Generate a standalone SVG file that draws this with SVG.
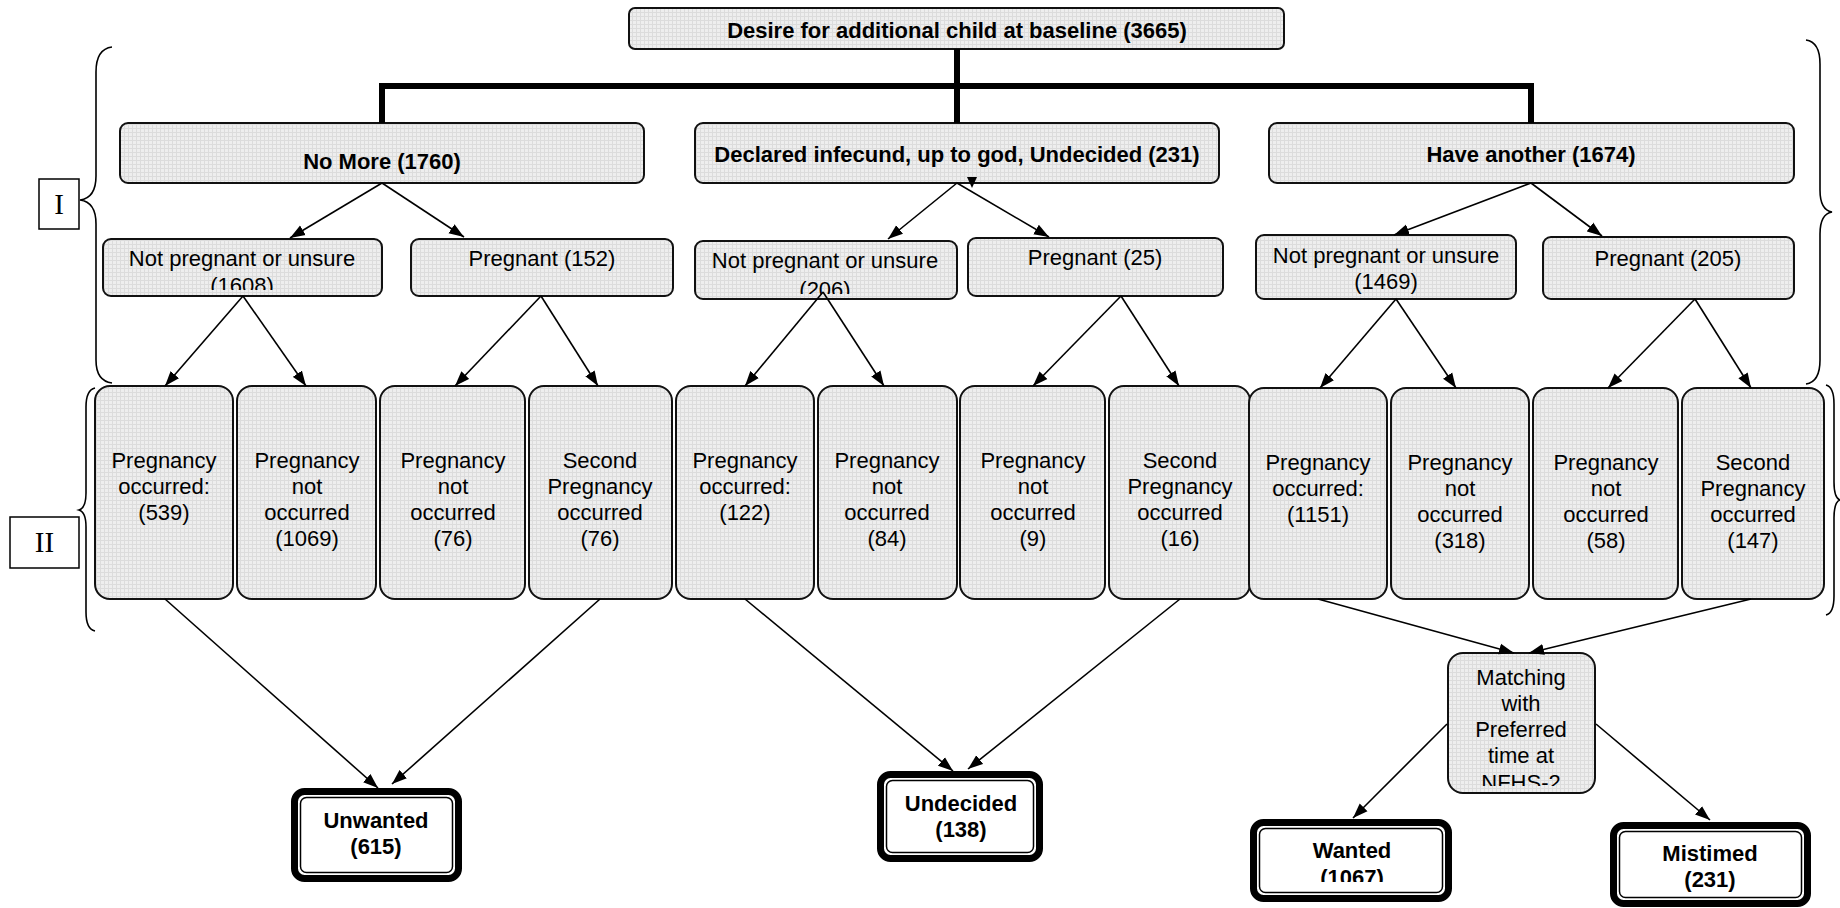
<svg xmlns="http://www.w3.org/2000/svg" width="1840" height="908" viewBox="0 0 1840 908">
<defs>
<pattern id="grid" width="4" height="4" patternUnits="userSpaceOnUse">
<rect width="4" height="4" fill="#eeeeee"/>
<path d="M0 0.5H4M0.5 0V4" stroke="#dcdcdc" stroke-width="1"/>
</pattern>
<marker id="ah" markerUnits="userSpaceOnUse" markerWidth="16" markerHeight="12" refX="15" refY="6" orient="auto">
<path d="M0,0.5 L15,6 L0,11.5 z" fill="#000"/>
</marker>
<clipPath id="c1608"><rect x="103" y="239" width="279" height="51"/></clipPath>
<clipPath id="c206"><rect x="695" y="241" width="262" height="53"/></clipPath>
<clipPath id="cmatch"><rect x="1448" y="653" width="147" height="133"/></clipPath>
<clipPath id="cwanted"><rect x="1250" y="819" width="202" height="63"/></clipPath>
</defs>
<style>
.box{fill:url(#grid);stroke:#111;stroke-width:2}
.t{font-family:"Liberation Sans",Arial,sans-serif;font-size:22px;fill:#000;text-anchor:middle}
.b{font-weight:bold}
.arr{stroke:#000;stroke-width:1.6;fill:none;marker-end:url(#ah)}
.thick{stroke:#000;stroke-width:6;fill:none}
.outer{fill:#fff;stroke:#000;stroke-width:7}
.inner{fill:none;stroke:#000;stroke-width:1.5}
.brace{fill:none;stroke:#000;stroke-width:1.6}
.lab{font-family:"Liberation Serif","Times New Roman",serif;font-size:29px;text-anchor:middle}
</style>

<g id="braces">
<path class="brace" d="M112,47 Q96,49 96,72 L96,176 Q96,198 80,200 Q96,202 96,224 L96,360 Q96,381 112,383"/>
<path class="brace" d="M95,388 Q86,390 86,407 L86,493 Q86,508 79,510 Q86,512 86,527 L86,612 Q86,629 95,631"/>
<path class="brace" d="M1806,40 Q1820,42 1820,64 L1820,190 Q1820,210 1832,212 Q1820,214 1820,234 L1820,360 Q1820,382 1806,384"/>
<path class="brace" d="M1826,385 Q1834,387 1834,404 L1834,482 Q1834,498 1840,500 Q1834,502 1834,518 L1834,596 Q1834,613 1826,615"/>
</g>
<g id="label-I">
<rect x="39" y="179" width="40" height="50" fill="#fff" stroke="#000" stroke-width="1.5"/>
<text class="lab" x="59" y="214">I</text>
</g>
<g id="label-II">
<rect x="10" y="517" width="69" height="51" fill="#fff" stroke="#000" stroke-width="1.5"/>
<text class="lab" x="44.5" y="552">II</text>
</g>

<g id="n-top">
<rect class="box" x="629" y="8" width="655" height="41" rx="6"/>
<text class="t b" x="957" y="38">Desire for additional child at baseline (3665)</text>
</g>
<g id="n-nomore">
<rect class="box" x="120" y="123" width="524" height="60" rx="8"/>
<text class="t b" x="382" y="169">No More (1760)</text>
</g>
<g id="n-declared">
<rect class="box" x="695" y="123" width="524" height="60" rx="8"/>
<text class="t b" x="957" y="162">Declared infecund, up to god, Undecided (231)</text>
</g>
<g id="n-have">
<rect class="box" x="1269" y="123" width="525" height="60" rx="8"/>
<text class="t b" x="1531" y="162">Have another (1674)</text>
</g>

<g id="n-np1608">
<rect class="box" x="103" y="239" width="279" height="57" rx="8"/>
<g clip-path="url(#c1608)">
<text class="t" x="242" y="266">Not pregnant or unsure</text>
<text class="t" x="242" y="293">(1608)</text>
</g>
</g>
<g id="n-p152">
<rect class="box" x="411" y="239" width="262" height="57" rx="8"/>
<text class="t" x="542" y="266">Pregnant (152)</text>
</g>
<g id="n-np206">
<rect class="box" x="695" y="241" width="262" height="58" rx="8"/>
<g clip-path="url(#c206)">
<text class="t" x="825" y="268">Not pregnant or unsure</text>
<text class="t" x="825" y="297">(206)</text>
</g>
</g>
<g id="n-p25">
<rect class="box" x="968" y="238" width="255" height="58" rx="8"/>
<text class="t" x="1095" y="265">Pregnant (25)</text>
</g>
<g id="n-np1469">
<rect class="box" x="1256" y="235" width="260" height="64" rx="8"/>
<text class="t" x="1386" y="263">Not pregnant or unsure</text>
<text class="t" x="1386" y="289">(1469)</text>
</g>
<g id="n-p205">
<rect class="box" x="1543" y="237" width="251" height="62" rx="8"/>
<text class="t" x="1668" y="266">Pregnant (205)</text>
</g>

<g id="n-b1">
<rect class="box" x="95" y="386" width="138" height="213" rx="15"/>
<text class="t" x="164" y="468">Pregnancy</text><text class="t" x="164" y="494">occurred:</text><text class="t" x="164" y="520">(539)</text>
</g>
<g id="n-b2">
<rect class="box" x="237" y="386" width="139" height="213" rx="15"/>
<text class="t" x="307" y="468">Pregnancy</text><text class="t" x="307" y="494">not</text><text class="t" x="307" y="520">occurred</text><text class="t" x="307" y="546">(1069)</text>
</g>
<g id="n-b3">
<rect class="box" x="380" y="386" width="145" height="213" rx="15"/>
<text class="t" x="453" y="468">Pregnancy</text><text class="t" x="453" y="494">not</text><text class="t" x="453" y="520">occurred</text><text class="t" x="453" y="546">(76)</text>
</g>
<g id="n-b4">
<rect class="box" x="529" y="386" width="143" height="213" rx="15"/>
<text class="t" x="600" y="468">Second</text><text class="t" x="600" y="494">Pregnancy</text><text class="t" x="600" y="520">occurred</text><text class="t" x="600" y="546">(76)</text>
</g>
<g id="n-b5">
<rect class="box" x="676" y="386" width="138" height="213" rx="15"/>
<text class="t" x="745" y="468">Pregnancy</text><text class="t" x="745" y="494">occurred:</text><text class="t" x="745" y="520">(122)</text>
</g>
<g id="n-b6">
<rect class="box" x="818" y="386" width="139" height="213" rx="15"/>
<text class="t" x="887" y="468">Pregnancy</text><text class="t" x="887" y="494">not</text><text class="t" x="887" y="520">occurred</text><text class="t" x="887" y="546">(84)</text>
</g>
<g id="n-b7">
<rect class="box" x="960" y="386" width="145" height="213" rx="15"/>
<text class="t" x="1033" y="468">Pregnancy</text><text class="t" x="1033" y="494">not</text><text class="t" x="1033" y="520">occurred</text><text class="t" x="1033" y="546">(9)</text>
</g>
<g id="n-b8">
<rect class="box" x="1109" y="386" width="141" height="213" rx="15"/>
<text class="t" x="1180" y="468">Second</text><text class="t" x="1180" y="494">Pregnancy</text><text class="t" x="1180" y="520">occurred</text><text class="t" x="1180" y="546">(16)</text>
</g>
<g id="n-b9">
<rect class="box" x="1249" y="388" width="138" height="211" rx="15"/>
<text class="t" x="1318" y="470">Pregnancy</text><text class="t" x="1318" y="496">occurred:</text><text class="t" x="1318" y="522">(1151)</text>
</g>
<g id="n-b10">
<rect class="box" x="1391" y="388" width="138" height="211" rx="15"/>
<text class="t" x="1460" y="470">Pregnancy</text><text class="t" x="1460" y="496">not</text><text class="t" x="1460" y="522">occurred</text><text class="t" x="1460" y="548">(318)</text>
</g>
<g id="n-b11">
<rect class="box" x="1533" y="388" width="145" height="211" rx="15"/>
<text class="t" x="1606" y="470">Pregnancy</text><text class="t" x="1606" y="496">not</text><text class="t" x="1606" y="522">occurred</text><text class="t" x="1606" y="548">(58)</text>
</g>
<g id="n-b12">
<rect class="box" x="1682" y="388" width="142" height="211" rx="15"/>
<text class="t" x="1753" y="470">Second</text><text class="t" x="1753" y="496">Pregnancy</text><text class="t" x="1753" y="522">occurred</text><text class="t" x="1753" y="548">(147)</text>
</g>

<g id="n-matching">
<rect class="box" x="1448" y="653" width="147" height="140" rx="15"/>
<g clip-path="url(#cmatch)">
<text class="t" x="1521" y="685">Matching</text><text class="t" x="1521" y="711">with</text><text class="t" x="1521" y="737">Preferred</text><text class="t" x="1521" y="763">time at</text><text class="t" x="1521" y="790">NFHS-2</text>
</g>
</g>

<g id="n-unwanted">
<rect class="outer" x="294.5" y="791.5" width="164" height="87" rx="10"/>
<rect class="inner" x="300.5" y="797.5" width="152" height="75" rx="6"/>
<text class="t b" x="376" y="828">Unwanted</text><text class="t b" x="376" y="854">(615)</text>
</g>
<g id="n-undecided">
<rect class="outer" x="880.5" y="774.5" width="159" height="84" rx="10"/>
<rect class="inner" x="886.5" y="780.5" width="147" height="72" rx="6"/>
<text class="t b" x="961" y="811">Undecided</text><text class="t b" x="961" y="837">(138)</text>
</g>
<g id="n-wanted">
<rect class="outer" x="1253.5" y="822.5" width="195" height="76" rx="10"/>
<rect class="inner" x="1259.5" y="828.5" width="183" height="64" rx="6"/>
<g clip-path="url(#cwanted)">
<text class="t b" x="1352" y="858">Wanted</text><text class="t b" x="1352" y="885">(1067)</text>
</g>
</g>
<g id="n-mistimed">
<rect class="outer" x="1613.5" y="825.5" width="194" height="78" rx="10"/>
<rect class="inner" x="1619.5" y="831.5" width="182" height="66" rx="6"/>
<text class="t b" x="1710" y="861">Mistimed</text><text class="t b" x="1710" y="887">(231)</text>
</g>

<g id="connectors">
<path class="thick" d="M957,49 V123 M382,123 V86 H1531 V123"/>
<path d="M967,177 L977,177 L972,188 z" fill="#000"/>
<line class="arr" x1="382" y1="183" x2="290" y2="238"/>
<line class="arr" x1="382" y1="183" x2="464" y2="237"/>
<line class="arr" x1="957" y1="183" x2="888" y2="239"/>
<line class="arr" x1="957" y1="183" x2="1049" y2="237"/>
<line class="arr" x1="1531" y1="183" x2="1394" y2="235"/>
<line class="arr" x1="1531" y1="183" x2="1602" y2="236"/>

<line class="arr" x1="243" y1="296" x2="165" y2="386"/>
<line class="arr" x1="243" y1="296" x2="306" y2="386"/>
<line class="arr" x1="541" y1="296" x2="455" y2="386"/>
<line class="arr" x1="541" y1="296" x2="598" y2="386"/>
<line class="arr" x1="823" y1="292" x2="745" y2="386"/>
<line class="arr" x1="823" y1="292" x2="884" y2="386"/>
<line class="arr" x1="1121" y1="296" x2="1033" y2="386"/>
<line class="arr" x1="1121" y1="296" x2="1179" y2="386"/>
<line class="arr" x1="1396" y1="299" x2="1320" y2="388"/>
<line class="arr" x1="1396" y1="299" x2="1456" y2="388"/>
<line class="arr" x1="1695" y1="299" x2="1608" y2="388"/>
<line class="arr" x1="1695" y1="299" x2="1751" y2="388"/>

<line class="arr" x1="165" y1="599" x2="378" y2="788"/>
<line class="arr" x1="600" y1="599" x2="392" y2="784"/>
<line class="arr" x1="745" y1="599" x2="953" y2="771"/>
<line class="arr" x1="1180" y1="599" x2="968" y2="769"/>
<line class="arr" x1="1318" y1="599" x2="1514" y2="653"/>
<line class="arr" x1="1751" y1="599" x2="1529" y2="653"/>
<line class="arr" x1="1447" y1="724" x2="1353" y2="818"/>
<line class="arr" x1="1596" y1="724" x2="1710" y2="820"/>
</g>
</svg>
